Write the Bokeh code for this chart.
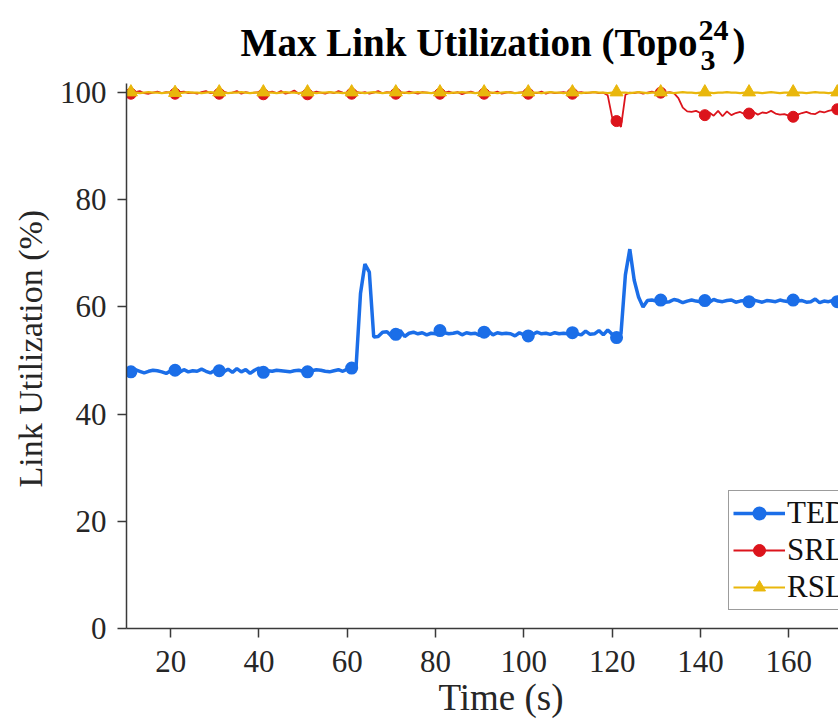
from bokeh.plotting import figure
from bokeh.models import Range1d, Label, Legend, LegendItem, FixedTicker, Title
from bokeh.embed import file_html
from bokeh.resources import INLINE

# ---------------- data ----------------
time_s = list(range(10, 173))

te_util = [
    48.0, 47.9, 48.3, 48.0, 47.7, 48.0, 48.2, 48.1, 47.9, 47.6,
    48.1, 48.2, 47.8, 48.3, 47.9, 48.1, 48.0, 48.4, 48.0, 47.7,
    48.2, 48.1, 47.9, 48.4, 47.8, 48.5, 47.9, 48.3, 47.6, 48.2,
    48.6, 47.8, 48.1, 48.0, 48.2, 48.1, 48.0, 47.9, 48.1, 48.2,
    48.0, 47.9, 48.1, 48.3, 48.2, 48.0, 47.9, 48.1, 48.3, 48.0,
    48.4, 48.6, 48.8, 62.5, 68.0, 66.5, 54.4, 54.5, 55.3, 55.4,
    54.6, 54.9, 55.6, 54.5, 55.1, 55.3, 55.0, 55.2, 54.8, 55.1,
    55.0, 55.6, 55.2, 55.0, 55.1, 55.3, 54.8, 55.2, 55.0, 55.1,
    54.7, 55.3, 55.5, 54.8, 55.2, 55.0, 55.1, 55.0, 54.6, 55.2,
    54.8, 54.6, 54.9, 55.3, 55.0, 55.1, 54.9, 55.2, 55.0, 55.1,
    55.0, 55.2, 55.0, 54.8, 55.5, 54.9, 55.0, 55.6, 54.8, 55.7,
    54.9, 54.3, 55.0, 66.0, 70.8, 65.0, 61.8, 60.0, 61.2, 61.3,
    61.1, 61.3, 60.9, 61.0, 61.4, 61.2, 60.8, 61.1, 61.3, 61.1,
    61.0, 61.2, 60.9, 61.4, 61.1, 61.0, 61.2, 61.3, 60.9, 61.1,
    61.2, 61.0, 61.3, 61.1, 60.9, 61.2, 61.1, 61.0, 61.3, 61.1,
    61.0, 61.3, 61.1, 61.2, 60.9, 61.0, 61.5, 60.8, 61.1, 61.0,
    61.2, 61.0, 61.1,
]

sr_util = [
    99.9, 99.8, 100.1, 100.3, 99.9, 99.8, 100.0, 100.2, 99.9, 100.1,
    100.0, 99.8, 100.1, 100.2, 99.9, 100.0, 99.8, 100.1, 100.3, 99.9,
    100.0, 99.8, 100.2, 99.9, 100.0, 100.3, 99.8, 100.1, 99.9, 100.0,
    100.1, 99.7, 100.0, 100.2, 99.9, 100.3, 99.8, 100.0, 100.4, 99.8,
    100.1, 99.7, 99.9, 100.2, 100.0, 99.8, 100.1, 99.9, 100.3, 100.0,
    99.8, 99.8, 100.2, 99.9, 100.1, 99.8, 100.0, 100.3, 99.9, 100.1,
    100.0, 99.8, 100.1, 99.9, 100.2, 100.0, 99.8, 100.1, 100.0, 99.9,
    100.1, 99.8, 100.0, 100.2, 99.9, 100.1, 99.7, 100.0, 100.2, 99.9,
    100.0, 99.8, 100.1, 99.9, 100.2, 99.8, 100.0, 100.1, 99.9, 100.0,
    100.1, 99.8, 100.0, 99.9, 100.2, 99.8, 100.1, 99.9, 100.0, 100.1,
    99.9, 99.8, 100.0, 100.1, 99.9, 100.0, 100.1, 99.9, 100.0, 99.5,
    95.4, 94.7, 93.6, 99.6, 100.0, 99.9, 100.1, 99.8, 100.0, 100.2,
    99.9, 100.0, 99.9, 100.1, 99.9, 99.0, 97.2, 96.5, 96.4, 96.6,
    96.2, 95.8, 96.3, 95.7, 96.6, 95.6, 96.5, 95.8, 96.2, 96.4,
    96.0, 96.1, 96.4, 95.9, 96.3, 96.2, 96.6, 96.1, 95.9, 96.0,
    95.7, 95.5, 95.9, 96.2, 96.4, 96.1, 96.0, 96.5, 96.3, 96.6,
    96.8, 96.9, 97.0,
]

rs_util = [
    100.0, 100.1, 100.0, 99.9, 100.0, 100.1, 100.0, 100.0, 99.9, 100.0,
    100.1, 100.0, 99.9, 100.0, 100.1, 100.0, 100.0, 99.9, 100.0, 100.1,
    100.0, 100.1, 100.0, 99.9, 100.0, 100.0, 100.1, 100.0, 99.9, 100.0,
    100.0, 100.1, 100.0, 100.0, 99.9, 100.0, 100.1, 100.0, 100.0, 99.9,
    100.0, 100.1, 100.0, 99.9, 100.0, 100.0, 100.1, 100.0, 100.0, 99.9,
    100.0, 100.1, 100.0, 100.0, 99.9, 100.0, 100.1, 100.0, 99.9, 100.0,
    100.0, 100.1, 100.0, 100.0, 99.9, 100.0, 100.1, 100.0, 100.0, 99.9,
    100.0, 100.1, 100.0, 99.9, 100.0, 100.0, 100.1, 100.0, 100.0, 99.9,
    100.0, 100.1, 100.0, 100.0, 99.9, 100.0, 100.1, 100.0, 99.9, 100.0,
    100.0, 100.1, 100.0, 100.0, 99.9, 100.0, 100.1, 100.0, 100.0, 99.9,
    100.0, 100.1, 100.0, 99.9, 100.0, 100.0, 100.1, 100.0, 100.0, 99.9,
    100.0, 100.1, 100.0, 100.0, 99.9, 100.0, 100.1, 100.0, 99.9, 100.0,
    100.0, 100.1, 100.0, 100.0, 99.9, 100.0, 100.1, 100.0, 100.0, 99.9,
    100.0, 100.1, 100.0, 99.9, 100.0, 100.0, 100.1, 100.0, 100.0, 99.9,
    100.0, 100.1, 100.0, 100.0, 99.9, 100.0, 100.1, 100.0, 99.9, 100.0,
    100.0, 100.1, 100.0, 100.0, 99.9, 100.0, 100.1, 100.0, 100.0, 99.9,
    100.0, 100.1, 100.0,
]

series_names = ["TEDR", "SRLS", "RSLS"]
x_ticks = [20, 40, 60, 80, 100, 120, 140, 160]
y_ticks = [0, 20, 40, 60, 80, 100]

# ---------------- styles ----------------
BLUE = "#1b6ee8"
RED = "#dc141c"
YELLOW = "#e9b70c"
AXIS = "#3a3a3a"
SERIF = "Liberation Serif"

# frame reaches the top of the canvas so the title (drawn as labels) sits inside it;
# the visible y axis is limited to 0..101.7 with bounds.
Y_AXIS_TOP = 101.7
Y_VIEW_TOP = 117.2

p = figure(frame_width=712, frame_height=628,
           x_range=Range1d(10, 171.27), y_range=Range1d(0, Y_VIEW_TOP),
           output_backend="svg", toolbar_location=None,
           min_border_left=126, min_border_right=0,
           min_border_top=0, min_border_bottom=93)

p.outline_line_color = None
p.xgrid.visible = False
p.ygrid.visible = False
p.background_fill_color = "white"
p.border_fill_color = "white"

for ax in (p.xaxis[0], p.yaxis[0]):
    ax.axis_line_color = AXIS
    ax.axis_line_width = 1.5
    ax.major_tick_line_color = AXIS
    ax.major_tick_line_width = 1.5
    ax.major_tick_in = 0
    ax.major_tick_out = 9
    ax.minor_tick_line_color = None
    ax.major_label_text_font = SERIF
    ax.major_label_text_font_size = "31px"
    ax.major_label_text_color = "#262626"

p.yaxis.bounds = (0, Y_AXIS_TOP)
p.xaxis.ticker = FixedTicker(ticks=x_ticks)
p.yaxis.ticker = FixedTicker(ticks=y_ticks)
p.xaxis.major_label_standoff = 13
p.yaxis.major_label_standoff = 11

# axis titles as side titles so they can be placed like the reference's
p.add_layout(Title(text="Link Utilization (%)", align="left", offset=141,
                   text_font=SERIF, text_font_size="34px",
                   text_font_style="normal", text_color="#262626",
                   standoff=16), "left")
p.add_layout(Title(text="Time (s)", align="left", offset=312,
                   text_font=SERIF, text_font_size="37px",
                   text_font_style="normal", text_color="#262626",
                   standoff=0), "below")

# title with stacked super/subscript
TITLE_SIZE = "39px"
p.add_layout(Label(x=571, y=586, x_units="screen", y_units="screen",
                   text="Max Link Utilization (Topo", text_font=SERIF,
                   text_font_size=TITLE_SIZE, text_font_style="bold",
                   text_color="black", text_align="right",
                   text_baseline="alphabetic"))
p.add_layout(Label(x=572, y=598, x_units="screen", y_units="screen",
                   text="24", text_font=SERIF, text_font_size="30px",
                   text_font_style="bold", text_color="black",
                   text_align="left", text_baseline="alphabetic"))
p.add_layout(Label(x=574, y=568, x_units="screen", y_units="screen",
                   text="3", text_font=SERIF, text_font_size="30px",
                   text_font_style="bold", text_color="black",
                   text_align="left", text_baseline="alphabetic"))
p.add_layout(Label(x=606, y=586, x_units="screen", y_units="screen",
                   text=")", text_font=SERIF, text_font_size=TITLE_SIZE,
                   text_font_style="bold", text_color="black",
                   text_align="left", text_baseline="alphabetic"))

# ---------------- series ----------------
mk_t = time_s[1::10]

bl = p.line(time_s, te_util, line_color=BLUE, line_width=3.5)
bm = p.scatter(mk_t, te_util[1::10], marker="circle", size=11,
               fill_color=BLUE, line_color=BLUE, line_width=2)

rl = p.line(time_s, sr_util, line_color=RED, line_width=1.8)
rm = p.scatter(mk_t, sr_util[1::10], marker="circle", size=11,
               fill_color=RED, line_color=RED)

yl = p.line(time_s, rs_util, line_color=YELLOW, line_width=2.2)
ym = p.scatter(mk_t, rs_util[1::10], marker="triangle", size=13,
               fill_color=YELLOW, line_color=YELLOW)

legend = Legend(items=[
    LegendItem(label=series_names[0], renderers=[bl, bm]),
    LegendItem(label=series_names[1], renderers=[rl, rm]),
    LegendItem(label=series_names[2], renderers=[yl, ym]),
], location=(602, 18))
legend.label_text_font = SERIF
legend.label_text_font_size = "31px"
legend.label_text_color = "#111111"
legend.glyph_width = 52
legend.glyph_height = 30
legend.label_standoff = 2
legend.padding = 4
legend.spacing = 1
legend.margin = 0
legend.border_line_color = AXIS
legend.border_line_width = 1.2
legend.background_fill_alpha = 1.0
p.add_layout(legend)

open("out.html", "w").write(file_html(p, INLINE))
